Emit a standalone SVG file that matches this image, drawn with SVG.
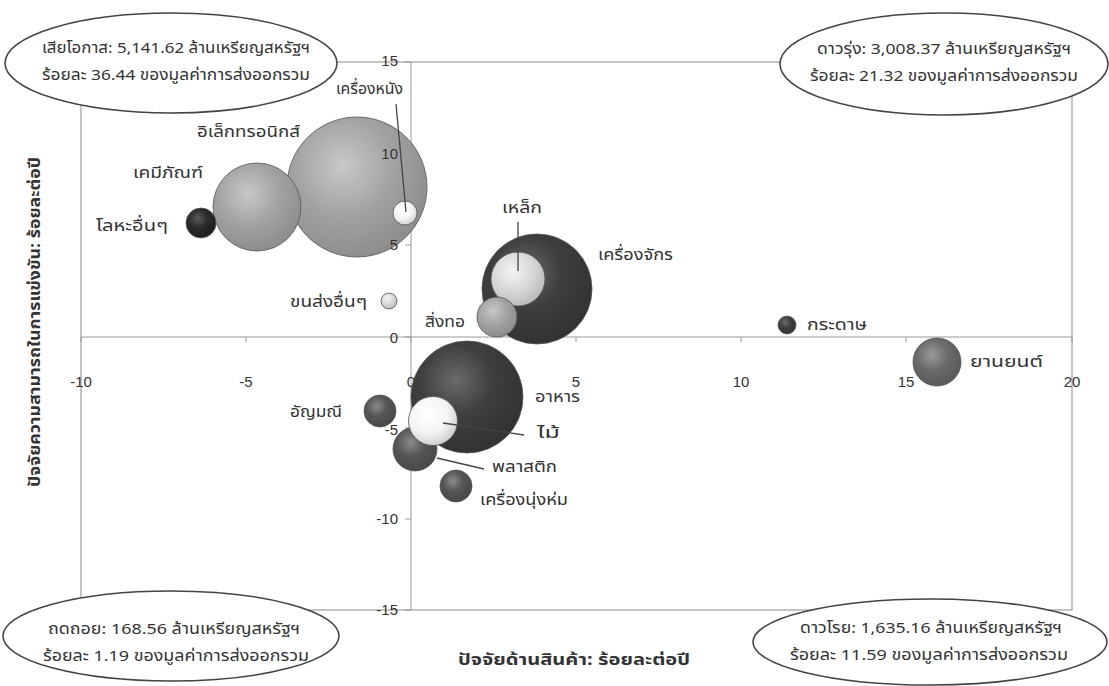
<svg xmlns="http://www.w3.org/2000/svg" width="1109" height="686" viewBox="0 0 1109 686">
<style>
text{font-family:"Noto Sans Thai","Noto Sans","DejaVu Sans","Liberation Sans",sans-serif;fill:#333}
.lbl{font-size:16px}
.tick{font-size:15px;font-family:"Liberation Sans",Arial,sans-serif}
.box{font-size:15px}
.ttl{font-size:16px;font-weight:bold}
.frame{fill:none;stroke:#8a8a8a;stroke-width:1}
.axis{stroke:#9a9a9a;stroke-width:1;fill:none}
.ell{fill:#fff;stroke:#444;stroke-width:1.6}
.lead{stroke:#444;stroke-width:1.3;fill:none}
.b{stroke:#555;stroke-width:0.8}
</style>
<defs>
<radialGradient id="gBlack" cx="40%" cy="35%" r="65%"><stop offset="0" stop-color="#5a5a5a"/><stop offset="0.5" stop-color="#2a2a2a"/><stop offset="1" stop-color="#1e1e1e"/></radialGradient>
<radialGradient id="gDark" cx="40%" cy="35%" r="65%"><stop offset="0" stop-color="#6a6a6a"/><stop offset="0.5" stop-color="#3e3e3e"/><stop offset="1" stop-color="#333"/></radialGradient>
<radialGradient id="gMid" cx="40%" cy="35%" r="65%"><stop offset="0" stop-color="#8a8a8a"/><stop offset="0.5" stop-color="#555"/><stop offset="1" stop-color="#484848"/></radialGradient>
<radialGradient id="gAuto" cx="40%" cy="35%" r="65%"><stop offset="0" stop-color="#9a9a9a"/><stop offset="0.5" stop-color="#6a6a6a"/><stop offset="1" stop-color="#5a5a5a"/></radialGradient>
<radialGradient id="gGray" cx="40%" cy="35%" r="65%"><stop offset="0" stop-color="#c8c8c8"/><stop offset="0.55" stop-color="#a2a2a2"/><stop offset="1" stop-color="#8e8e8e"/></radialGradient>
<radialGradient id="gLight" cx="40%" cy="35%" r="65%"><stop offset="0" stop-color="#f4f4f4"/><stop offset="0.6" stop-color="#d6d6d6"/><stop offset="1" stop-color="#bdbdbd"/></radialGradient>
<radialGradient id="gWhite" cx="40%" cy="35%" r="65%"><stop offset="0" stop-color="#fff"/><stop offset="0.6" stop-color="#f4f4f4"/><stop offset="1" stop-color="#d2d2d2"/></radialGradient>
</defs>
<rect width="1109" height="686" fill="#fff"/>

<g id="plot-frame">
<rect class="frame" x="81" y="62" width="991" height="548"/>
<line class="axis" x1="81" y1="337" x2="1072" y2="337"/>
<line class="axis" x1="411" y1="62" x2="411" y2="610"/>
<path class="axis" d="M81 337v5M246 337v5M411 337v5M576 337v5M741 337v5M906 337v5M1072 337v5"/>
<path class="axis" d="M405 62h6M405 154h6M405 245h6M405 337h6M405 428h6M405 519h6M405 610h6"/>
</g>

<g id="axis-labels-back">
<text class="tick" x="411" y="387" text-anchor="middle">0</text>
<text class="tick" x="398" y="435" text-anchor="end">-5</text>
</g>

<g id="bubbles">
<g id="n-electronics"><circle class="b" cx="357" cy="187" r="70" fill="url(#gGray)"/></g>
<g id="n-chemicals"><circle class="b" cx="257" cy="207" r="44" fill="url(#gGray)"/></g>
<g id="n-metals"><circle class="b" cx="201" cy="223" r="15" fill="url(#gBlack)"/></g>
<g id="n-leather"><circle class="b" cx="405" cy="213" r="12" fill="url(#gWhite)"/></g>
<g id="n-transport"><circle class="b" cx="389" cy="301" r="8" fill="url(#gLight)"/></g>
<g id="n-machinery"><circle class="b" cx="537" cy="289" r="55" fill="url(#gDark)"/></g>
<g id="n-steel"><circle class="b" cx="518" cy="279" r="27" fill="url(#gLight)"/></g>
<g id="n-textiles"><circle class="b" cx="497" cy="317" r="20" fill="url(#gGray)"/></g>
<g id="n-food"><circle class="b" cx="467" cy="397" r="56" fill="url(#gDark)"/></g>
<g id="n-gems"><circle class="b" cx="380" cy="411" r="16" fill="url(#gMid)"/></g>
<g id="n-plastics"><circle class="b" cx="415" cy="449" r="22" fill="url(#gMid)"/></g>
<g id="n-wood"><circle class="b" cx="433" cy="421" r="24.5" fill="url(#gWhite)"/></g>
<g id="n-garments"><circle class="b" cx="456" cy="486" r="16" fill="url(#gMid)"/></g>
<g id="n-paper"><circle class="b" cx="787" cy="325" r="9" fill="url(#gDark)"/></g>
<g id="n-auto"><circle class="b" cx="937" cy="362" r="24" fill="url(#gAuto)"/></g>
</g>

<g id="axis-labels">
<text class="tick" x="398" y="66" text-anchor="end">15</text>
<text class="tick" x="398" y="159" text-anchor="end">10</text>
<text class="tick" x="398" y="250" text-anchor="end">5</text>
<text class="tick" x="398" y="343" text-anchor="end">0</text>
<text class="tick" x="398" y="524" text-anchor="end">-10</text>
<text class="tick" x="398" y="615" text-anchor="end">-15</text>
<text class="tick" x="81" y="387" text-anchor="middle">-10</text>
<text class="tick" x="246" y="387" text-anchor="middle">-5</text>
<text class="tick" x="576" y="387" text-anchor="middle">5</text>
<text class="tick" x="741" y="387" text-anchor="middle">10</text>
<text class="tick" x="906" y="387" text-anchor="middle">15</text>
<text class="tick" x="1072" y="387" text-anchor="middle">20</text>
</g>

<g id="connectors">
<line class="lead" x1="396" y1="104" x2="406" y2="212"/>
<line class="lead" x1="518" y1="222" x2="518" y2="271"/>
<line class="lead" x1="443" y1="423" x2="524" y2="435"/>
<line class="lead" x1="437" y1="458" x2="484" y2="469"/>
</g>

<g id="bubble-labels">
<text class="lbl" x="197" y="137" textLength="103" lengthAdjust="spacingAndGlyphs">อิเล็กทรอนิกส์</text>
<text class="lbl" x="133" y="178" textLength="70" lengthAdjust="spacingAndGlyphs">เคมีภัณฑ์</text>
<text class="lbl" x="96" y="231" textLength="72" lengthAdjust="spacingAndGlyphs">โลหะอื่นๆ</text>
<text class="lbl" x="336" y="94" textLength="67" lengthAdjust="spacingAndGlyphs">เครื่องหนัง</text>
<text class="lbl" x="290" y="307" textLength="77" lengthAdjust="spacingAndGlyphs">ขนส่งอื่นๆ</text>
<text class="lbl" x="502" y="213" textLength="40" lengthAdjust="spacingAndGlyphs">เหล็ก</text>
<text class="lbl" x="598" y="260" textLength="75" lengthAdjust="spacingAndGlyphs">เครื่องจักร</text>
<text class="lbl" x="425" y="327" textLength="40" lengthAdjust="spacingAndGlyphs">สิ่งทอ</text>
<text class="lbl" x="535" y="402" textLength="45" lengthAdjust="spacingAndGlyphs">อาหาร</text>
<text class="lbl" x="290" y="417" textLength="52" lengthAdjust="spacingAndGlyphs">อัญมณี</text>
<text class="lbl" x="537" y="438" textLength="23" lengthAdjust="spacingAndGlyphs">ไม้</text>
<text class="lbl" x="492" y="472" textLength="65" lengthAdjust="spacingAndGlyphs">พลาสติก</text>
<text class="lbl" x="480" y="505" textLength="88" lengthAdjust="spacingAndGlyphs">เครื่องนุ่งห่ม</text>
<text class="lbl" x="807" y="330" textLength="60" lengthAdjust="spacingAndGlyphs">กระดาษ</text>
<text class="lbl" x="970" y="367" textLength="73" lengthAdjust="spacingAndGlyphs">ยานยนต์</text>
</g>

<g id="quadrant-lost">
<ellipse class="ell" cx="171" cy="63" rx="166" ry="50"/>
<text class="box" x="176" y="53" text-anchor="middle" textLength="268" lengthAdjust="spacingAndGlyphs">เสียโอกาส: 5,141.62 ล้านเหรียญสหรัฐฯ</text>
<text class="box" x="176" y="80" text-anchor="middle" textLength="268" lengthAdjust="spacingAndGlyphs">ร้อยละ 36.44 ของมูลค่าการส่งออกรวม</text>
</g>
<g id="quadrant-rising">
<ellipse class="ell" cx="944" cy="64" rx="164" ry="51"/>
<text class="box" x="944" y="54" text-anchor="middle" textLength="254" lengthAdjust="spacingAndGlyphs">ดาวรุ่ง: 3,008.37 ล้านเหรียญสหรัฐฯ</text>
<text class="box" x="944" y="81" text-anchor="middle" textLength="268" lengthAdjust="spacingAndGlyphs">ร้อยละ 21.32 ของมูลค่าการส่งออกรวม</text>
</g>
<g id="quadrant-retreat">
<ellipse class="ell" cx="171" cy="636" rx="168" ry="45"/>
<text class="box" x="174" y="634" text-anchor="middle" textLength="252" lengthAdjust="spacingAndGlyphs">ถดถอย: 168.56 ล้านเหรียญสหรัฐฯ</text>
<text class="box" x="176" y="661" text-anchor="middle" textLength="266" lengthAdjust="spacingAndGlyphs">ร้อยละ 1.19 ของมูลค่าการส่งออกรวม</text>
</g>
<g id="quadrant-falling">
<ellipse class="ell" cx="930" cy="642" rx="177" ry="43"/>
<text class="box" x="931" y="633" text-anchor="middle" textLength="262" lengthAdjust="spacingAndGlyphs">ดาวโรย: 1,635.16 ล้านเหรียญสหรัฐฯ</text>
<text class="box" x="929" y="660" text-anchor="middle" textLength="278" lengthAdjust="spacingAndGlyphs">ร้อยละ 11.59 ของมูลค่าการส่งออกรวม</text>
</g>

<g id="axis-titles">
<text class="ttl" x="574" y="665" text-anchor="middle" textLength="232" lengthAdjust="spacingAndGlyphs">ปัจจัยด้านสินค้า: ร้อยละต่อปี</text>
<text class="ttl" transform="translate(40 322) rotate(-90)" text-anchor="middle" textLength="330" lengthAdjust="spacingAndGlyphs">ปัจจัยความสามารถในการแข่งขัน: ร้อยละต่อปี</text>
</g>
</svg>
